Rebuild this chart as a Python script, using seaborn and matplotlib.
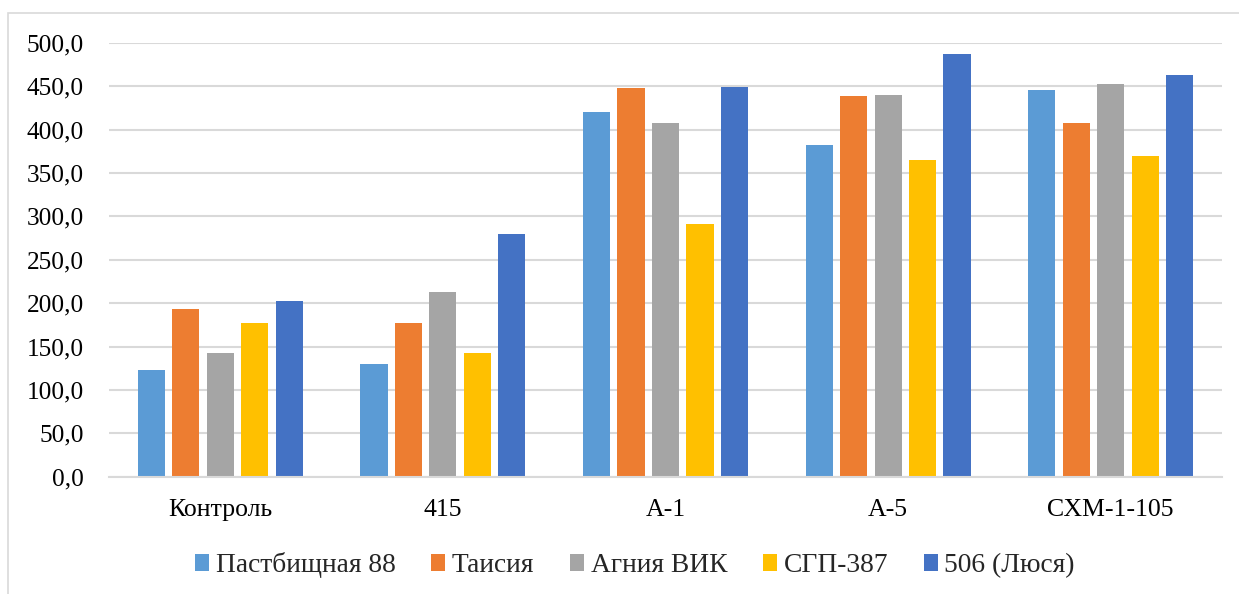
import matplotlib
matplotlib.use("Agg")
import matplotlib.pyplot as plt
from matplotlib.patches import Rectangle
import seaborn as sns
import pandas as pd

# Data
categories = ["Контроль", "415", "А-1", "А-5", "СХМ-1-105"]
series_names = ["Пастбищная 88", "Таисия", "Агния ВИК", "СГП-387", "506 (Люся)"]
pastbishchnaya_88 = [123.0, 129.5, 420.5, 382.0, 445.5]
taisiya = [193.0, 177.0, 448.0, 438.5, 408.0]
agniya_vik = [142.0, 212.5, 407.5, 439.5, 452.0]
sgp_387 = [177.5, 142.5, 291.0, 365.0, 370.0]
lyusya_506 = [202.5, 279.5, 449.5, 487.5, 462.5]
yticks = [0, 50, 100, 150, 200, 250, 300, 350, 400, 450, 500]
colors = ["#5B9BD5", "#ED7D31", "#A5A5A5", "#FFC000", "#4472C4"]

series_values = [pastbishchnaya_88, taisiya, agniya_vik, sgp_387, lyusya_506]
rows = []
for name, vals in zip(series_names, series_values):
    for cat, v in zip(categories, vals):
        rows.append({"cat": cat, "series": name, "value": v})
df = pd.DataFrame(rows)

sns.set_theme(style="white")
plt.rcParams["font.family"] = ["Liberation Serif", "DejaVu Serif"]

W, H = 1239, 594
fig = plt.figure(figsize=(W / 100, H / 100), dpi=100)
left, right, top, bottom = 109, 1222, 42.7, 476.7
ax = fig.add_axes([left / W, 1 - bottom / H, (right - left) / W, (bottom - top) / H])

sns.barplot(data=df, x="cat", y="value", hue="series", order=categories,
            hue_order=series_names, palette=colors, width=0.773, gap=0.21,
            ax=ax, legend=True, saturation=1, edgecolor="none")

ax.set_ylim(0, 500)
ax.set_xlim(-0.5, 4.5)
ax.set_yticks(yticks)
ax.set_yticklabels([f"{t:.1f}".replace(".", ",") for t in yticks])
ax.set_xlabel("")
ax.set_ylabel("")
ax.yaxis.grid(True, color="#d9d9d9", linewidth=1.5)
ax.set_axisbelow(True)
for side in ["top", "right", "left"]:
    ax.spines[side].set_visible(False)
ax.spines["bottom"].set_color("#d9d9d9")
ax.spines["bottom"].set_linewidth(1.5)
ax.tick_params(axis="y", length=0, pad=18, labelsize=18.3, labelcolor="black")
ax.tick_params(axis="x", length=0, pad=16, labelsize=18.5, labelcolor="black")

handles, labels = ax.get_legend_handles_labels()
ax.get_legend().remove()
fig.legend(handles, labels, loc="center", bbox_to_anchor=(635 / W, 1 - 565 / H),
           ncol=5, frameon=False, fontsize=19.8, handlelength=0.5, handleheight=0.55,
           handletextpad=0.25, columnspacing=1.3)

# Chart-area border
fig.patches.append(Rectangle((8 / W, -0.1), 1.2, 1 - 13 / H + 0.1,
                             transform=fig.transFigure, fill=False,
                             edgecolor="#d9d9d9", linewidth=1.2))

fig.savefig("out.png", dpi=100)
